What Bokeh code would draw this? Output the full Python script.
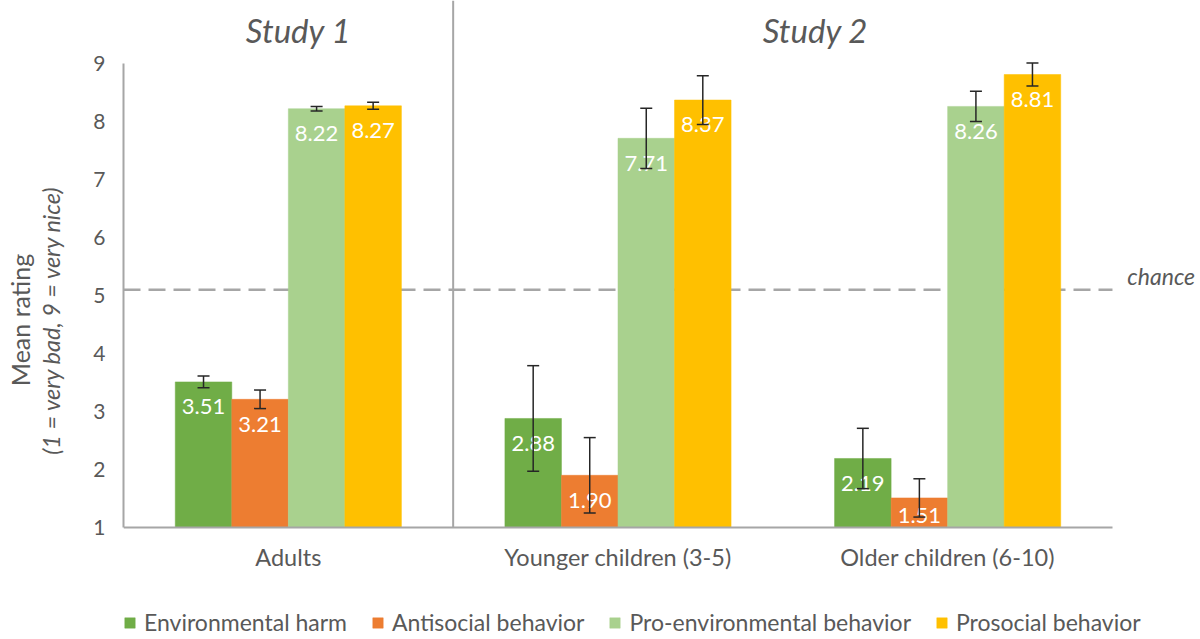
import numpy as np
from bokeh.plotting import figure
from bokeh.models import (ColumnDataSource, Range1d, LinearAxis, FixedTicker, Whisker,
                          TeeHead, Legend, LegendItem, Label)
from bokeh.core.properties import value
from bokeh.embed import file_html
from bokeh.resources import INLINE

# ---------------- data ----------------
groups = ["Adults", "Younger children (3-5)", "Older children (6-10)"]
series_names = ["Environmental harm", "Antisocial behavior",
                "Pro-environmental behavior", "Prosocial behavior"]
env_harm = [3.51, 2.88, 2.19]
antisocial = [3.21, 1.90, 1.51]
pro_env = [8.22, 7.71, 8.26]
prosocial = [8.27, 8.37, 8.81]
env_harm_err = [0.10, 0.91, 0.52]
antisocial_err = [0.16, 0.65, 0.33]
pro_env_err = [0.04, 0.52, 0.26]
prosocial_err = [0.06, 0.42, 0.20]
y_ticks = [1, 2, 3, 4, 5, 6, 7, 8, 9]
chance_level = 5.1
study_titles = ["Study 1", "Study 2"]
y_label_main = "Mean rating"
y_label_sub = "(1 = very bad, 9 = very nice)"
chance_text = "chance"

# ---------------- style ----------------
FONT = "Lato"
TXT = "#595959"
GRAY = "#A6A6A6"
colors = ["#70AD47", "#ED7D31", "#A9D18E", "#FFC000"]
W, H = 1200, 639
BAR_W = 0.1715
Y_MIN, Y_MAX = 1, 9
X_END = 3.267
Y_START, Y_END = -0.931, 10.086
LABEL_DROP = 0.43
LABEL_FLOOR = 0.21
study_x = [0.531, 2.099]
study_y = 9.57

values = [env_harm, antisocial, pro_env, prosocial]
errors = [env_harm_err, antisocial_err, pro_env_err, prosocial_err]

p = figure(width=W, height=H, output_backend="svg", toolbar_location=None,
           x_range=Range1d(0, X_END), y_range=Range1d(Y_START, Y_END),
           min_border_left=123, min_border_right=0, min_border_top=0, min_border_bottom=0)
p.outline_line_color = None
p.xgrid.visible = False
p.ygrid.visible = False
p.background_fill_color = "white"
p.border_fill_color = "white"

# x axis at y = 1
xa = p.xaxis[0]
xa.fixed_location = Y_MIN
xa.bounds = (0, len(groups))
centers = [i + 0.5 for i in range(len(groups))]
xa.ticker = FixedTicker(ticks=centers)
xa.major_label_overrides = {c: g for c, g in zip(centers, groups)}
xa.axis_line_color = GRAY
xa.axis_line_width = 2
xa.major_tick_line_color = None
xa.minor_tick_line_color = None
xa.major_label_standoff = 10
xa.major_label_text_font = FONT
xa.major_label_text_font_size = "23.5px"
xa.major_label_text_color = TXT

# y axis
ya = p.yaxis[0]
ya.bounds = (Y_MIN, Y_MAX)
ya.ticker = FixedTicker(ticks=y_ticks)
ya.axis_line_color = GRAY
ya.axis_line_width = 2
ya.major_tick_line_color = None
ya.minor_tick_line_color = None
ya.major_label_standoff = 12
ya.major_label_text_font = FONT
ya.major_label_text_font_size = "21px"
ya.major_label_text_color = TXT
ya.axis_label = y_label_sub
ya.axis_label_text_font = FONT
ya.axis_label_text_font_style = "italic"
ya.axis_label_text_font_size = "23.5px"
ya.axis_label_text_color = TXT
ya.axis_label_standoff = 25

ya2 = LinearAxis(ticker=FixedTicker(ticks=[]), axis_label=y_label_main, bounds=(Y_MIN, Y_MAX))
ya2.axis_line_color = None
ya2.major_tick_line_color = None
ya2.minor_tick_line_color = None
ya2.axis_label_text_font = FONT
ya2.axis_label_text_font_size = "25px"
ya2.axis_label_text_font_style = "normal"
ya2.axis_label_text_color = TXT
ya2.axis_label_standoff = 0
p.add_layout(ya2, "left")

# separator and chance line
p.segment(x0=[1], y0=[Y_MIN], x1=[1], y1=[Y_END], line_color=GRAY, line_width=2)
p.segment(x0=[0], y0=[chance_level], x1=[len(groups)], y1=[chance_level],
          line_color=GRAY, line_width=2.5, line_dash="17 8")

legend_items = []
for j, (name, vals, errs, col) in enumerate(zip(series_names, values, errors, colors)):
    x = np.arange(len(groups)) + 0.5 + (j - 1.5) * BAR_W
    vals_a = np.array(vals)
    errs_a = np.array(errs)
    src = ColumnDataSource(dict(
        x=x, top=vals_a, upper=vals_a + errs_a, lower=vals_a - errs_a,
        ly=np.maximum(vals_a - LABEL_DROP, Y_MIN + LABEL_FLOOR),
        txt=[f"{v:.2f}" for v in vals]))
    r = p.vbar(x="x", top="top", bottom=Y_MIN, width=BAR_W, source=src,
               fill_color=col, line_color=col, line_width=0.5)
    legend_items.append(LegendItem(label=name, renderers=[r]))
    p.text(x="x", y="ly", text="txt", source=src, text_color="white",
           text_align="center", text_baseline="middle",
           text_font=value(FONT), text_font_size="22px")
    w = Whisker(source=src, base="x", upper="upper", lower="lower", dimension="height",
                line_color="#262626", line_width=1.5, level="overlay",
                upper_head=TeeHead(size=12, line_color="#262626", line_width=1.5),
                lower_head=TeeHead(size=12, line_color="#262626", line_width=1.5))
    p.add_layout(w)

# titles
for t, sx in zip(study_titles, study_x):
    p.add_layout(Label(x=sx, y=study_y, text=t, text_align="center", text_baseline="middle",
                       text_font=FONT, text_font_size="33px", text_font_style="italic",
                       text_color=TXT))
p.add_layout(Label(x=3.045, y=chance_level + 0.23, text=chance_text, text_align="left",
                   text_baseline="middle", text_font=FONT, text_font_size="23px",
                   text_font_style="italic", text_color=TXT))

legend = Legend(items=legend_items, orientation="horizontal", location=(0, 3),
                border_line_color=None, background_fill_alpha=0, padding=0, margin=0,
                spacing=24, label_standoff=8, glyph_width=13, glyph_height=13,
                label_text_font=FONT, label_text_font_size="23px", label_text_color=TXT,
                label_height=23)
p.add_layout(legend, "center")

open("out.html", "w").write(file_html(p, INLINE))
